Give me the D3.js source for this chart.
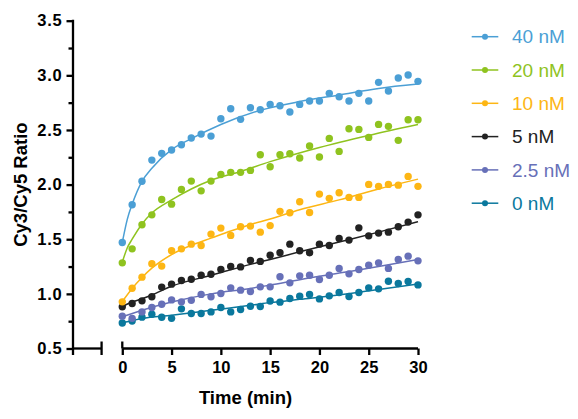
<!DOCTYPE html>
<html>
<head>
<meta charset="utf-8">
<script src="https://cdn.jsdelivr.net/npm/d3@7"></script>
<style>
  body { margin: 0; background: #fff; }
  text { font-family: Arial, "Liberation Sans", Helvetica, sans-serif; }
</style>
</head>
<body>
<script>
// time points, one per minute
var times = d3.range(0, 31);

var series = ["40 nM", "20 nM", "10 nM", "5 nM", "2.5 nM", "0 nM"];
var colors = ["#4b9fd5", "#8fc31f", "#fdb614", "#222222", "#6770b8", "#0a789d"];

var v40 = [1.47, 1.815, 2.03, 2.224, 2.286, 2.316, 2.365, 2.426, 2.462, 2.444, 2.603, 2.694, 2.597, 2.703, 2.685,
  2.734, 2.722, 2.664, 2.734, 2.765, 2.765, 2.835, 2.804, 2.765, 2.835, 2.765, 2.936, 2.856, 2.975, 3.003, 2.945];
var v20 = [1.284, 1.412, 1.632, 1.723, 1.864, 1.821, 1.956, 2.032, 1.943, 2.032, 2.093, 2.112, 2.112, 2.13, 2.273,
  2.163, 2.273, 2.282, 2.243, 2.353, 2.252, 2.423, 2.304, 2.511, 2.505, 2.432, 2.551, 2.533, 2.405, 2.593, 2.593];
var v10 = [0.927, 1.052, 1.153, 1.275, 1.254, 1.394, 1.412, 1.455, 1.443, 1.547, 1.602, 1.535, 1.614, 1.62, 1.565,
  1.625, 1.755, 1.742, 1.843, 1.745, 1.913, 1.874, 1.925, 1.883, 1.883, 2.002, 1.984, 2.002, 1.995, 2.075, 1.984];
var v5 = [0.881, 0.912, 0.936, 0.973, 1.062, 1.089, 1.122, 1.134, 1.171, 1.18, 1.223, 1.251, 1.247, 1.306, 1.297,
  1.353, 1.376, 1.455, 1.394, 1.376, 1.455, 1.443, 1.507, 1.492, 1.604, 1.531, 1.556, 1.565, 1.614, 1.657, 1.723];
var v2 = [0.796, 0.776, 0.835, 0.875, 0.905, 0.945, 0.927, 0.942, 0.995, 0.973, 1.004, 1.055, 1.034, 1.022, 1.064,
  1.064, 1.156, 1.101, 1.165, 1.171, 1.132, 1.171, 1.233, 1.183, 1.223, 1.263, 1.284, 1.233, 1.315, 1.345, 1.302];
var v0 = [0.734, 0.752, 0.787, 0.814, 0.786, 0.776, 0.863, 0.821, 0.821, 0.835, 0.875, 0.835, 0.857, 0.887, 0.884,
  0.935, 0.924, 0.958, 0.979, 0.995, 0.954, 0.982, 1.013, 0.976, 1.013, 1.055, 1.046, 1.116, 1.095, 1.114, 1.082];

// fitted curves, sampled off the figure as [time, ratio]
var fit40 = [[0, 1.47], [0.5, 1.68], [1, 1.82], [2, 2.03], [3, 2.15], [5, 2.32], [7, 2.42], [10, 2.55], [14, 2.68],
  [18, 2.76], [22, 2.82], [26, 2.88], [30, 2.92]];
var fit20 = [[0, 1.29], [0.5, 1.42], [1, 1.5], [2, 1.64], [3, 1.74], [5, 1.86], [7, 1.96], [9, 2.04], [12, 2.12],
  [15, 2.21], [20, 2.34], [25, 2.45], [30, 2.55]];
var fit10 = [[0, 0.93], [1, 1.05], [2, 1.15], [3, 1.235], [5, 1.36], [7, 1.445], [9, 1.51], [11, 1.575], [13, 1.635],
  [15, 1.685], [18, 1.77], [22, 1.86], [26, 1.96], [30, 2.05]];
var fit5 = [[0, 0.885], [1, 0.925], [2, 0.955], [3, 0.99], [5, 1.07], [9, 1.17], [13, 1.27], [15, 1.315], [18, 1.385],
  [22, 1.475], [26, 1.565], [30, 1.66]];
var fit2 = [[0, 0.79], [2, 0.85], [5, 0.925], [9, 1.0], [13, 1.05], [15, 1.08], [18, 1.13], [22, 1.19], [26, 1.25],
  [30, 1.315]];
var fit0 = [[0, 0.735], [1, 0.755], [2, 0.775], [5, 0.805], [9, 0.85], [13, 0.895], [15, 0.92], [18, 0.95], [22, 0.99],
  [26, 1.04], [30, 1.09]];

var values = [v40, v20, v10, v5, v2, v0];
var fits = [fit40, fit20, fit10, fit5, fit2, fit0];

var yTicks = [0.5, 1.0, 1.5, 2.0, 2.5, 3.0, 3.5];
var xTicks = [0, 5, 10, 15, 20, 25, 30];

var width = 578, height = 419;
var axisW = 2.3;

var svg = d3.select("body").append("svg")
  .attr("width", width)
  .attr("height", height);

var x = d3.scaleLinear().domain([-5, 30]).range([73, 418]);
var y = d3.scaleLinear().domain([0.5, 3.5]).range([348.5, 20.7]);

// y axis with major and minor ticks
var yAxis = svg.append("g").attr("transform", "translate(" + x(-5) + ",0)");
yAxis.append("g")
  .call(d3.axisLeft(y).tickValues(d3.range(0.75, 3.5, 0.5)).tickSize(4.5).tickFormat(""))
  .call(g => g.select(".domain").remove());
yAxis.append("g")
  .call(d3.axisLeft(y).tickValues(yTicks).tickSize(6.5).tickSizeOuter(0).tickPadding(4).tickFormat(d3.format(".1f")))
  .call(g => g.select(".domain").remove())
  .call(g => g.selectAll("text")
    .attr("font-size", "16.5px").attr("font-weight", "bold").attr("letter-spacing", "0.8px")
    .attr("fill", "#000").attr("font-family", "Arial, 'Liberation Sans', sans-serif"));
yAxis.selectAll("line").attr("stroke", "#000").attr("stroke-width", axisW);
yAxis.append("line")
  .attr("x1", 0).attr("x2", 0)
  .attr("y1", y(3.5) - 1).attr("y2", y(0.5) + 6.5)
  .attr("stroke", "#000").attr("stroke-width", axisW);

// broken x axis: short stub then 0..30
var xAxisY = y(0.5);
svg.append("line")
  .attr("x1", x(-5)).attr("x2", x(-2.1))
  .attr("y1", xAxisY).attr("y2", xAxisY)
  .attr("stroke", "#000").attr("stroke-width", axisW);
svg.append("line")
  .attr("x1", x(-2.1)).attr("x2", x(-2.1))
  .attr("y1", xAxisY - 7).attr("y2", xAxisY + 6.5)
  .attr("stroke", "#000").attr("stroke-width", axisW);

var xAxis = svg.append("g")
  .attr("transform", "translate(0," + xAxisY + ")")
  .call(d3.axisBottom(x).tickValues(xTicks).tickSize(6.5).tickSizeOuter(0).tickPadding(6));
xAxis.select(".domain").attr("d", "M" + x(0) + ",0H" + x(30));
xAxis.selectAll("path, line").attr("stroke", "#000").attr("stroke-width", axisW);
xAxis.selectAll("text")
  .attr("font-size", "16.5px").attr("font-weight", "bold")
  .attr("fill", "#000").attr("font-family", "Arial, 'Liberation Sans', sans-serif");
svg.append("line")
  .attr("x1", x(0)).attr("x2", x(0))
  .attr("y1", xAxisY - 7).attr("y2", xAxisY)
  .attr("stroke", "#000").attr("stroke-width", axisW);

// axis titles
svg.append("text")
  .attr("x", (x(-5) + x(30)) / 2)
  .attr("y", 404)
  .attr("text-anchor", "middle")
  .attr("font-size", "18.5px").attr("font-weight", "bold")
  .text("Time (min)");

svg.append("text")
  .attr("transform", "translate(27," + (y(0.5) + y(3.5)) / 2 + ") rotate(-90)")
  .attr("text-anchor", "middle")
  .attr("font-size", "18.5px").attr("font-weight", "bold")
  .text("Cy3/Cy5 Ratio");

// fitted curves
var line = d3.line()
  .x(d => x(d[0]))
  .y(d => y(d[1]))
  .curve(d3.curveMonotoneX);

// draw lowest series first so the upper ones sit on top
for (var i = series.length - 1; i >= 0; i--) {
  svg.append("path")
    .datum(fits[i])
    .attr("d", line)
    .attr("fill", "none")
    .attr("stroke", colors[i])
    .attr("stroke-width", 1.5);

  svg.append("g").selectAll("circle")
    .data(values[i])
    .enter().append("circle")
    .attr("cx", (d, j) => x(times[j]))
    .attr("cy", d => y(d))
    .attr("r", 3.7)
    .attr("fill", colors[i]);
}

// legend
var legend = svg.append("g");
series.forEach(function(name, i) {
  var ly = 36.7 + i * 33.3;
  legend.append("line")
    .attr("x1", 471.7).attr("x2", 498.3)
    .attr("y1", ly).attr("y2", ly)
    .attr("stroke", colors[i]).attr("stroke-width", 1.5);
  legend.append("circle")
    .attr("cx", 485).attr("cy", ly).attr("r", 3)
    .attr("fill", colors[i]);
  legend.append("text")
    .attr("x", 512).attr("y", ly)
    .attr("dy", "0.35em")
    .attr("font-size", "19px")
    .attr("fill", colors[i])
    .text(name);
});
</script>
</body>
</html>
